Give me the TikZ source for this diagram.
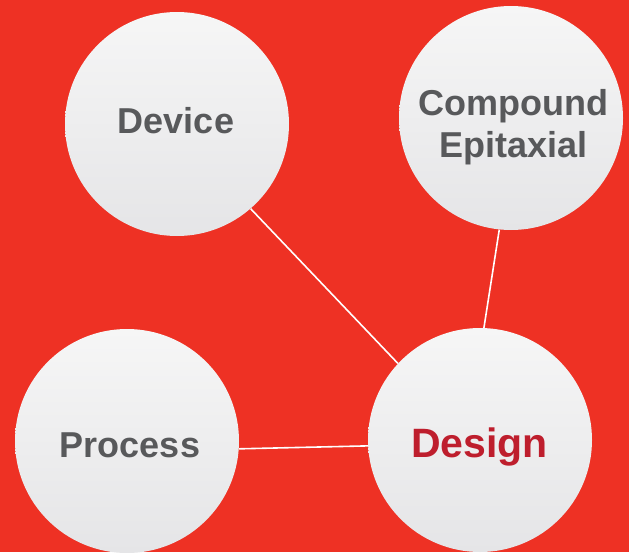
\documentclass[tikz,border=0pt]{standalone}
\usepackage{fontspec}
\setmainfont{Liberation Sans}
\definecolor{bgred}{HTML}{EE3124}
\definecolor{ctop}{HTML}{F6F6F6}
\definecolor{cbot}{HTML}{E5E5E7}
\definecolor{txtgray}{HTML}{58595B}
\definecolor{dred}{HTML}{BE1E2D}
\tikzset{
  bubble/.style={circle, minimum size=224pt, inner sep=0pt, top color=ctop, bottom color=cbot, draw=none},
  lbl/.style={anchor=base, inner sep=0pt, font=\bfseries\fontsize{36}{40}\selectfont, text=txtgray},
  link/.style={draw=white, line width=1.6pt}
}
\begin{document}
\begin{tikzpicture}[x=1pt,y=-1pt]
\useasboundingbox (0,0) rectangle (629,552);
\clip (0,0) rectangle (629,552);
\fill[bgred] (0,0) rectangle (629,552);
\node[bubble] (dev) at (177,124) {};
\node[bubble] (cmp) at (511,118) {};
\node[bubble] (prc) at (127,441) {};
\node[bubble] (dsg) at (480,440) {};
\draw[link] (dev.-49.7) -- (dsg.137.2);
\draw[link] (cmp.-96.3) -- (dsg.88);
\draw[link] (prc.-4.6) -- (dsg.183);
\node[lbl] (tdev) at (176,133.5) {Device};
\node[lbl] (tcmp1) at (513.5,115) {Compound};
\node[lbl] (tcmp2) at (513.5,157) {Epitaxial};
\node[lbl] (tprc) at (130,457) {Process};
\node[lbl, text=dred, font=\bfseries\fontsize{41}{44}\selectfont] (tdsg) at (479.5,457) {Design};
\end{tikzpicture}
\end{document}
